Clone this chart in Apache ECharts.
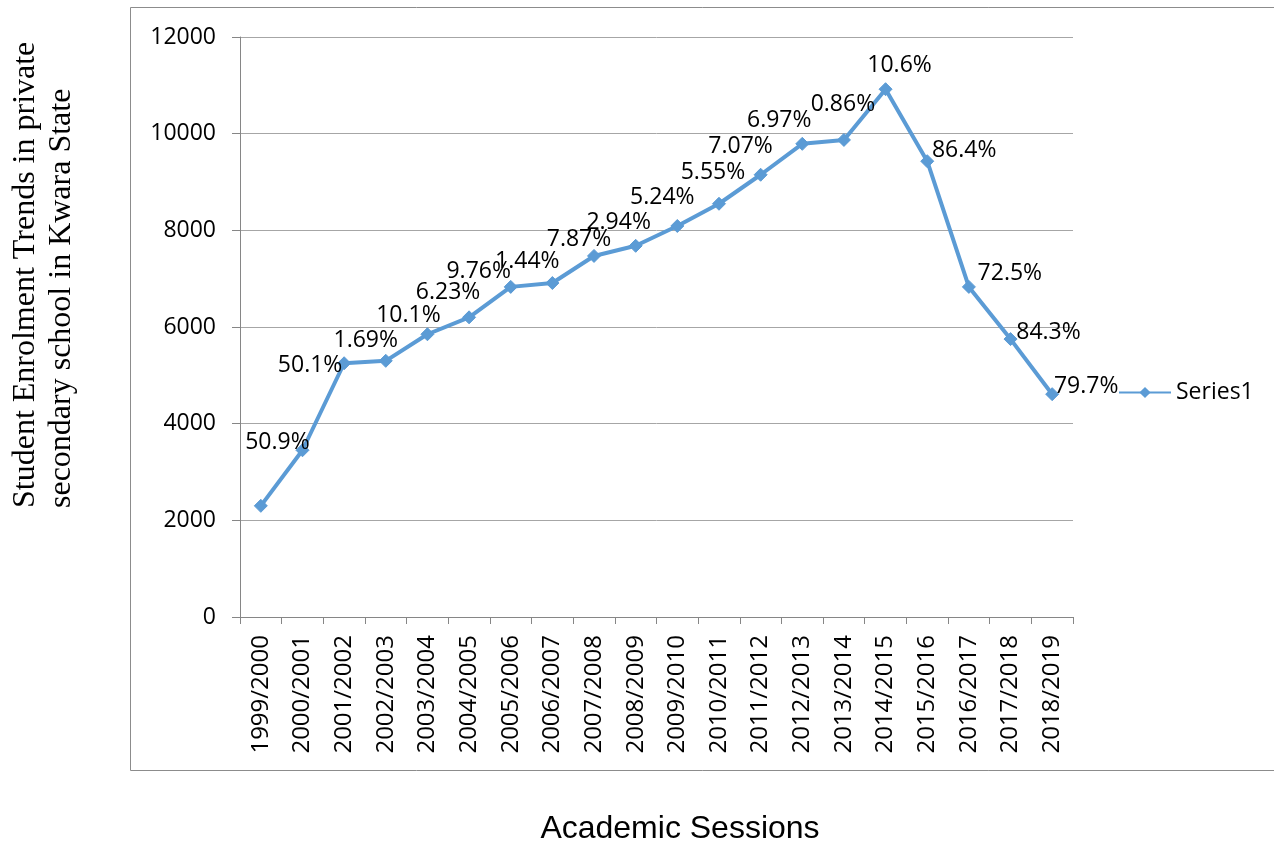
<!DOCTYPE html>
<html>
<head>
<meta charset="utf-8">
<title>Student Enrolment Trends</title>
<script src="https://cdn.jsdelivr.net/npm/echarts@6/dist/echarts.min.js"></script>
<style>
  html, body { margin: 0; padding: 0; background: #fff; }
  #chart { width: 1274px; height: 844px; }
</style>
</head>
<body>
<div id="chart"></div>
<script>
// Academic sessions on the category axis
const sessions = [
  '1999/2000', '2000/2001', '2001/2002', '2002/2003', '2003/2004',
  '2004/2005', '2005/2006', '2006/2007', '2007/2008', '2008/2009',
  '2009/2010', '2010/2011', '2011/2012', '2012/2013', '2013/2014',
  '2014/2015', '2015/2016', '2016/2017', '2017/2018', '2018/2019'
];

// Enrolment in private secondary schools for each session
const enrolment = [
  2300, 3450, 5250, 5300, 5850, 6200, 6830, 6910, 7470, 7680,
  8090, 8550, 9150, 9790, 9870, 10920, 9430, 6830, 5750, 4610
];

// Percentage label shown beside each session's point
const changeLabels = [
  '', '50.9%', '50.1%', '1.69%', '10.1%', '6.23%', '9.76%', '1.44%', '7.87%', '2.94%',
  '5.24%', '5.55%', '7.07%', '6.97%', '0.86%', '10.6%', '86.4%', '72.5%', '84.3%', '79.7%'
];

// Value axis ticks
const yTicks = { min: 0, max: 12000, interval: 2000 };

// Nudges for each data label relative to its point (layout only)
const labelNudge = [
  [0, 0], [-25, 16], [-34, 26], [-20, 3], [-19, 5], [-21, -1], [-32, 8], [-25, 2], [-15, 7], [-17, 0],
  [-15, -5], [-6, -8], [-20, -5], [-23, 0], [-1, -12], [14, 0], [37, 13], [41, 10], [38, 17], [34, 16]
];

const BLUE = '#5b9bd5';
const SANS = '"Open Sans", "Noto Sans", sans-serif';
const FS = 23;

const chart = echarts.init(document.getElementById('chart'), null, { renderer: 'canvas' });

const seriesData = enrolment.map((v, i) => ({
  value: v,
  label: {
    show: changeLabels[i] !== '',
    formatter: changeLabels[i],
    position: 'top',
    offset: labelNudge[i]
  }
}));

chart.setOption({
  animation: false,
  backgroundColor: '#fff',
  grid: { left: 240, top: 37, width: 833, height: 580, containLabel: false },
  legend: {
    show: true,
    left: 1113,
    top: 376,
    itemWidth: 52,
    itemHeight: 14,
    itemGap: 5,
    textStyle: { fontFamily: SANS, fontSize: FS, color: '#000', lineHeight: 22 },
    data: ['Series1']
  },
  xAxis: {
    type: 'category',
    data: sessions,
    boundaryGap: true,
    axisLine: { show: true, lineStyle: { color: '#868686', width: 1 } },
    axisTick: { show: true, length: 7, alignWithLabel: false, lineStyle: { color: '#868686' } },
    axisLabel: {
      interval: 0,
      rotate: 90,
      margin: 18,
      fontFamily: SANS,
      fontSize: 24,
      color: '#000'
    },
    splitLine: { show: false }
  },
  yAxis: {
    type: 'value',
    min: yTicks.min,
    max: yTicks.max,
    interval: yTicks.interval,
    axisLine: { show: true, lineStyle: { color: '#868686', width: 1 } },
    axisTick: { show: true, length: 8, lineStyle: { color: '#868686' } },
    axisLabel: {
      margin: 24,
      fontFamily: SANS,
      fontSize: FS,
      color: '#000',
      formatter: (v) => String(v)
    },
    splitLine: { show: true, lineStyle: { color: '#a6a6a6', width: 1 } }
  },
  series: [{
    name: 'Series1',
    type: 'line',
    data: seriesData,
    symbol: 'diamond',
    symbolSize: 13,
    showAllSymbol: true,
    lineStyle: { color: BLUE, width: 4 },
    itemStyle: { color: BLUE, borderColor: BLUE },
    label: {
      fontFamily: SANS,
      fontSize: FS,
      color: '#000',
      distance: 5
    },
    emphasis: { disabled: true },
    z: 3
  }],
  graphic: [
    {
      type: 'rect',
      shape: { x: 130.5, y: 7.5, width: 1160, height: 763 },
      style: { fill: 'none', stroke: '#8c8c8c', lineWidth: 1 },
      silent: true,
      z: -10
    },
    {
      type: 'text',
      x: 44,
      y: 508,
      rotation: Math.PI / 2,
      style: {
        text: 'Student Enrolment Trends in private\nsecondary school in Kwara State',
        fontFamily: '"Liberation Serif", "Times New Roman", serif',
        fontSize: 32,
        lineHeight: 36,
        fill: '#000',
        textAlign: 'left',
        textVerticalAlign: 'middle'
      },
      silent: true
    },
    {
      type: 'text',
      x: 680,
      y: 829,
      style: {
        text: 'Academic Sessions',
        fontFamily: '"Liberation Sans", Arial, sans-serif',
        fontSize: 32,
        fill: '#000',
        textAlign: 'center',
        textVerticalAlign: 'middle'
      },
      silent: true
    }
  ]
});
</script>
</body>
</html>
